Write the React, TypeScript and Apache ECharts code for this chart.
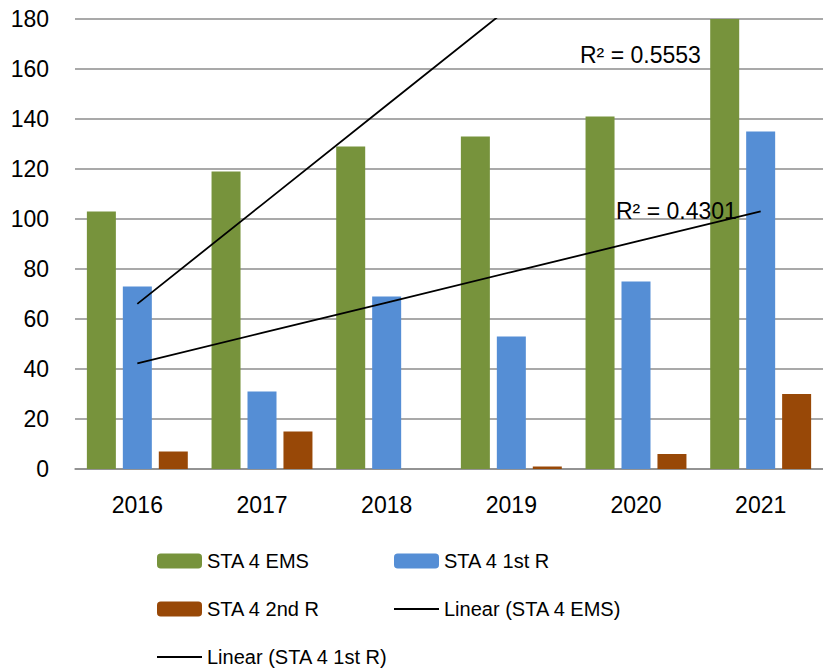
import React, { useEffect, useRef } from "react";
import * as echarts from "echarts";

const years = ["2016", "2017", "2018", "2019", "2020", "2021"];
const emsValues = [103, 119, 129, 133, 141, 367];
const firstRValues = [73, 31, 69, 53, 75, 135];
const secondRValues = [7, 15, 0, 1, 6, 30];
const yTicks = { min: 0, max: 180, interval: 20 };
const r2Labels = ["R² = 0.5553", "R² = 0.4301"];

function linearFit(values: number[]): number[] {
  const n = values.length;
  const xs = values.map((_, i) => i);
  const mx = xs.reduce((a, b) => a + b, 0) / n;
  const my = values.reduce((a, b) => a + b, 0) / n;
  let sxy = 0;
  let sxx = 0;
  for (let i = 0; i < n; i++) {
    sxy += (xs[i] - mx) * (values[i] - my);
    sxx += (xs[i] - mx) * (xs[i] - mx);
  }
  const slope = sxy / sxx;
  const intercept = my - slope * mx;
  return xs.map((x) => intercept + slope * x);
}

const FONT = "'Liberation Sans', Arial, sans-serif";
const GREEN = "#77933C";
const BLUE = "#558ED5";
const ORANGE = "#984807";
const GRID = "#8c8c8c";

export default function App() {
  const ref = useRef<HTMLDivElement>(null);
  useEffect(() => {
    if (!ref.current) return;
    const chart = echarts.init(ref.current, undefined, { renderer: "svg" });
    const legendBase = {
      orient: "horizontal",
      itemWidth: 45,
      itemHeight: 15,
      selectedMode: false,
      padding: 0,
      textStyle: { fontFamily: FONT, fontSize: 20, color: "#000" },
    };
    const lineLegend = {
      ...legendBase,
      itemHeight: 2,
      icon: "rect",
      itemStyle: { color: "#000", borderWidth: 0 },
    };
    chart.setOption({
      animation: false,
      backgroundColor: "#fff",
      grid: { left: 75, top: 19, width: 750, height: 450, containLabel: false },
      xAxis: {
        type: "category",
        data: years,
        axisTick: { show: false },
        axisLine: { lineStyle: { color: GRID, width: 1.5 } },
        axisLabel: { fontFamily: FONT, fontSize: 23, color: "#000", margin: 24 },
      },
      yAxis: {
        type: "value",
        min: yTicks.min,
        max: yTicks.max,
        interval: yTicks.interval,
        axisLine: { show: false },
        axisTick: { show: false },
        splitLine: { lineStyle: { color: GRID, width: 1.5 } },
        axisLabel: { fontFamily: FONT, fontSize: 23, color: "#000", margin: 26 },
      },
      legend: [
        { ...legendBase, data: ["STA 4 EMS"], left: 157, top: 551 },
        { ...legendBase, data: ["STA 4 1st R"], left: 394, top: 551 },
        { ...legendBase, data: ["STA 4 2nd R"], left: 157, top: 599 },
        { ...lineLegend, data: ["Linear (STA 4 EMS)"], left: 394, top: 599 },
        { ...lineLegend, data: ["Linear (STA 4 1st R)"], left: 157, top: 647 },
      ],
      series: [
        {
          name: "STA 4 EMS",
          type: "bar",
          data: emsValues,
          barWidth: 29,
          barGap: "24%",
          itemStyle: { color: GREEN },
          clip: true,
        },
        {
          name: "STA 4 1st R",
          type: "bar",
          data: firstRValues,
          barWidth: 29,
          barGap: "24%",
          itemStyle: { color: BLUE },
          clip: true,
        },
        {
          name: "STA 4 2nd R",
          type: "bar",
          data: secondRValues,
          barWidth: 29,
          barGap: "24%",
          itemStyle: { color: ORANGE },
          clip: true,
        },
        {
          name: "Linear (STA 4 EMS)",
          type: "line",
          data: linearFit(emsValues),
          symbol: "none",
          lineStyle: { color: "#000", width: 1.8 },
          itemStyle: { color: "#000" },
          clip: true,
          z: 5,
        },
        {
          name: "Linear (STA 4 1st R)",
          type: "line",
          data: linearFit(firstRValues),
          symbol: "none",
          lineStyle: { color: "#000", width: 1.8 },
          itemStyle: { color: "#000" },
          clip: true,
          z: 5,
        },
      ],
      graphic: [
        {
          type: "text",
          left: 580,
          top: 43,
          z: 10,
          style: { text: r2Labels[0], fontFamily: FONT, fontSize: 23, fill: "#000" },
        },
        {
          type: "text",
          left: 616,
          top: 199,
          z: 10,
          style: { text: r2Labels[1], fontFamily: FONT, fontSize: 23, fill: "#000" },
        },
      ],
    });
    return () => chart.dispose();
  }, []);
  return (
    <div
      ref={ref}
      style={{ position: "fixed", left: 0, top: 0, width: 823, height: 670, background: "#fff" }}
    />
  );
}
